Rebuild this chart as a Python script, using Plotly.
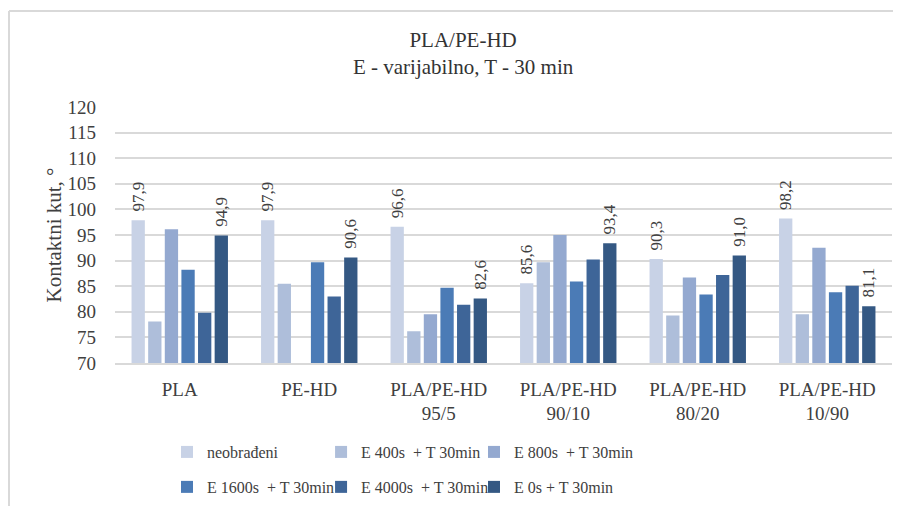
import plotly.graph_objects as go

categories = ["PLA", "PE-HD", "PLA/PE-HD<br>95/5", "PLA/PE-HD<br>90/10",
              "PLA/PE-HD<br>80/20", "PLA/PE-HD<br>10/90"]

neobradeni = [97.9, 97.9, 96.6, 85.6, 90.3, 98.2]
e400 = [78.1, 85.5, 76.2, 89.7, 79.3, 79.5]
e800 = [96.1, None, 79.5, 95.0, 86.7, 92.5]
e1600 = [88.2, 89.7, 84.7, 85.9, 83.4, 83.8]
e4000 = [79.8, 83.0, 81.4, 90.2, 87.2, 85.1]
e0 = [94.9, 90.6, 82.6, 93.4, 91.0, 81.1]

series = [
    ("neobrađeni", neobradeni, "#C8D2E6", True),
    ("E 400s  + T 30min", e400, "#AEBEDA", False),
    ("E 800s  + T 30min", e800, "#94A9D0", False),
    ("E 1600s  + T 30min", e1600, "#4B7BB6", False),
    ("E 4000s  + T 30min", e4000, "#3E6598", False),
    ("E 0s + T 30min", e0, "#345883", True),
]

# one legend per entry so the 3x2 grid matches the original
legend_names = ["legend", "legend2", "legend3", "legend4", "legend5", "legend6"]
legend_x = [0.0669, 0.2652, 0.4620, 0.0669, 0.2652, 0.4620]
legend_y = [0.1084, 0.1084, 0.1084, 0.0382, 0.0382, 0.0382]

font = "Liberation Serif, DejaVu Serif, serif"
pad = "\u00a0\u200a"

fig = go.Figure()
for (name, vals, color, labelled), leg in zip(series, legend_names):
    fig.add_trace(go.Bar(
        x=categories, y=vals, name=name, legend=leg, showlegend=True,
        marker=dict(color=color, line=dict(width=0)),
        text=[pad + f"{v:.1f}".replace(".", ",") if v is not None else "" for v in vals] if labelled else None,
        textposition="outside" if labelled else "none",
        textangle=-90,
        constraintext="none",
        textfont=dict(family=font, size=17, color="#404040"),
        cliponaxis=False,
    ))

legends = {}
for leg, lx, ly in zip(legend_names, legend_x, legend_y):
    legends[leg] = dict(orientation="h", x=lx, xanchor="left", y=ly, yanchor="middle",
                        yref="container", itemwidth=30, bgcolor="rgba(0,0,0,0)", visible=True,
                        font=dict(family=font, size=16, color="#404040"))

# page body has an 8px margin, so the figure is 8px smaller than the window
fig.update_layout(
    width=893, height=498,
    showlegend=True,
    barmode="group", bargap=0.23, bargroupgap=0.2,
    plot_bgcolor="white", paper_bgcolor="white",
    margin=dict(l=107, r=9, t=99, b=143, autoexpand=False),
    font=dict(family=font, size=19, color="#404040"),
    title=dict(text="PLA/PE-HD<br>E - varijabilno, T - 30 min",
               x=0.448, xref="paper", xanchor="center", y=0.922, yanchor="top",
               font=dict(family=font, size=21, color="#333333")),
    shapes=[
        dict(type="line", xref="paper", yref="paper", x0=-0.1364, x1=1.02, y0=1.375, y1=1.375,
             line=dict(color="#D9D9D9", width=2)),
        dict(type="line", xref="paper", yref="paper", x0=-0.1364, x1=-0.1364, y0=1.375, y1=-0.6,
             line=dict(color="#D9D9D9", width=2)),
    ],
    **legends,
)

fig.update_yaxes(range=[70, 120], dtick=5, showgrid=True, gridcolor="#D9D9D9", gridwidth=1.5,
                 zeroline=False, ticks="", ticklabelstandoff=18, automargin=False,
                 tickfont=dict(size=19, color="#404040"),
                 title=dict(text="Kontaktni kut, °", font=dict(size=21, color="#404040"), standoff=0))
fig.update_xaxes(showline=True, linecolor="#D9D9D9", linewidth=1.5, ticks="", automargin=False,
                 ticklabelstandoff=8, tickfont=dict(size=19, color="#404040"))

fig.write_html("out.html")
